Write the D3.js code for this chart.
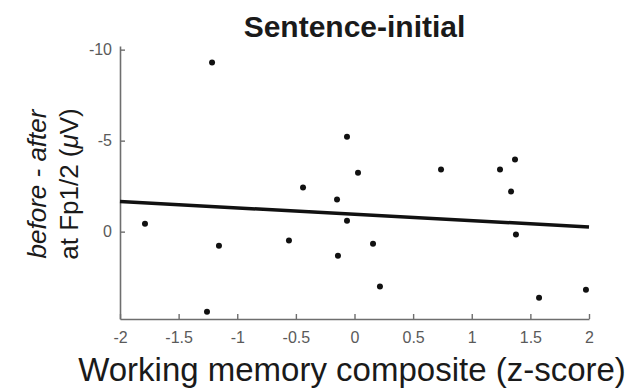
<!DOCTYPE html>
<html>
<head>
<meta charset="utf-8">
<script src="https://cdn.jsdelivr.net/npm/d3@7"></script>
<style>
  body { margin: 0; background: #fff; }
  svg { font-family: "Liberation Sans", Arial, sans-serif; }
</style>
</head>
<body>
<div id="chart"></div>
<script>
// working memory composite (z-score) per participant
var wmScore = [-1.215, -0.064, 0.030, -0.439, 0.738, 1.241, 1.369, 1.335, -0.149, -0.064,
               -1.787, -1.156, -0.559, -0.141, -1.258, 0.158, 1.377, 0.217, 1.574, 1.974];
// before - after amplitude at Fp1/2 (uV)
var erpDiff = [-9.29, -5.22, -3.24, -2.42, -3.41, -3.41, -3.96, -2.20, -1.76, -0.60,
               -0.44, 0.77, 0.49, 1.32, 4.40, 0.66, 0.16, 3.02, 3.63, 3.19];
// regression line end points
var fitX = [-2, 2];
var fitY = [-1.65, -0.26];

var xTicks = [-2, -1.5, -1, -0.5, 0, 0.5, 1, 1.5, 2];
var yTicks = [-10, -5, 0];

var W = 634, H = 389;
var padLeft = 120, padRight = 589, padTop = 46, padBottom = 319;
var axisGray = "#6e6e6e";

var svg = d3.select("#chart").append("svg")
            .attr("width", W)
            .attr("height", H);

var x = d3.scaleLinear().domain([-2, 2]).range([padLeft, padRight]);
var y = d3.scaleLinear().domain([-10.2, 4.8]).range([padTop, padBottom]);

var xAxis = svg.append("g")
               .attr("transform", "translate(0," + padBottom + ")")
               .call(d3.axisBottom(x)
                       .tickValues(xTicks)
                       .tickFormat(function(d){ return String(d); })
                       .tickSizeInner(-5)
                       .tickSizeOuter(0)
                       .tickPadding(13));

var yAxis = svg.append("g")
               .attr("transform", "translate(" + padLeft + ",0)")
               .call(d3.axisLeft(y)
                       .tickValues(yTicks)
                       .tickFormat(function(d){ return String(d); })
                       .tickSizeInner(-5)
                       .tickSizeOuter(0)
                       .tickPadding(8));

[xAxis, yAxis].forEach(function(g){
  g.select(".domain").attr("stroke", axisGray).attr("stroke-width", 1.6);
  g.selectAll(".tick line").attr("stroke", axisGray).attr("stroke-width", 1.4);
  g.selectAll(".tick text")
   .attr("fill", "#5a5a5a")
   .style("font-size", "16px")
   .style("font-family", "Liberation Sans, Arial, sans-serif");
});

// regression line
svg.append("line")
   .attr("x1", x(fitX[0]))
   .attr("y1", y(fitY[0]))
   .attr("x2", x(fitX[1]))
   .attr("y2", y(fitY[1]))
   .attr("stroke", "#111")
   .attr("stroke-width", 3.5);

// participants
svg.selectAll("circle.pt")
   .data(d3.range(wmScore.length))
   .enter()
   .append("circle")
   .attr("class", "pt")
   .attr("cx", function(i){ return x(wmScore[i]); })
   .attr("cy", function(i){ return y(erpDiff[i]); })
   .attr("r", 3)
   .attr("fill", "#111");

// title
svg.append("text")
   .attr("x", (padLeft + padRight) / 2)
   .attr("y", 37)
   .attr("text-anchor", "middle")
   .style("font-size", "30px")
   .style("font-weight", "bold")
   .attr("fill", "#1a1a1a")
   .text("Sentence-initial");

// x label
svg.append("text")
   .attr("x", 352)
   .attr("y", 381)
   .attr("text-anchor", "middle")
   .style("font-size", "33px")
   .attr("fill", "#1a1a1a")
   .text("Working memory composite (z-score)");

// y label, two lines
var yl = svg.append("g")
            .attr("transform", "translate(0," + 184 + ") rotate(-90)")
            .attr("fill", "#1a1a1a")
            .style("font-size", "26px");
yl.append("text")
  .attr("x", 0).attr("y", 46)
  .attr("text-anchor", "middle")
  .style("font-style", "italic")
  .text("before - after");
yl.append("text")
  .attr("x", 0).attr("y", 78)
  .attr("text-anchor", "middle")
  .html('at Fp1/2 (<tspan font-style="italic">\u03bc</tspan>V)');
</script>
</body>
</html>
